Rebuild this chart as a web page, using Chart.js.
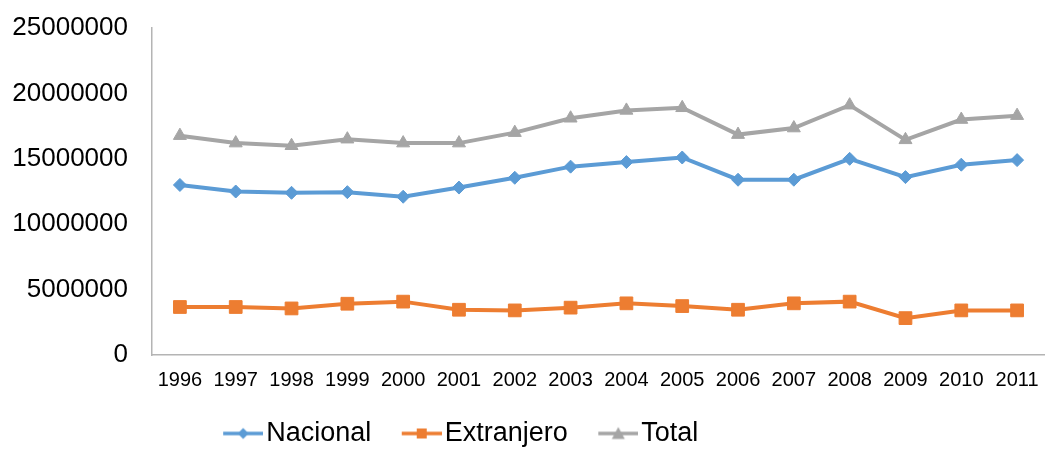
<!DOCTYPE html>
<html>
<head>
<meta charset="utf-8">
<script src="https://cdn.jsdelivr.net/npm/chart.js@4.4.0/dist/chart.umd.min.js"></script>
<style>
  html, body { margin: 0; padding: 0; background: #fff; }
  #wrap { width: 1045px; height: 450px; }
</style>
</head>
<body>
<div id="wrap"><canvas id="chart" width="1045" height="450"></canvas></div>
<script>
const years = ["1996", "1997", "1998", "1999", "2000", "2001", "2002", "2003",
  "2004", "2005", "2006", "2007", "2008", "2009", "2010", "2011"];

const nacional = [13000000, 12500000, 12400000, 12450000, 12100000, 12800000, 13550000, 14400000,
  14750000, 15100000, 13400000, 13400000, 15000000, 13600000, 14550000, 14900000];
const extranjero = [3670000, 3670000, 3560000, 3920000, 4080000, 3460000, 3410000, 3620000,
  3950000, 3740000, 3460000, 3950000, 4080000, 2820000, 3410000, 3410000];
const total = [16770000, 16200000, 16000000, 16500000, 16200000, 16200000, 17000000, 18100000,
  18700000, 18900000, 16850000, 17350000, 19100000, 16450000, 18000000, 18300000];

const yTicks = [0, 5000000, 10000000, 15000000, 20000000, 25000000];

const BLUE = "#5B9BD5";
const ORANGE = "#ED7D31";
const GRAY = "#A5A5A5";
const AXIS = "#B4B4B4";

// legend icon: short line with the marker in the middle (like Excel).
// the canvas is wider than the line so the line sits close to the text
function legendIcon(color, shape) {
  const c = document.createElement("canvas");
  c.width = 71;
  c.height = 16;
  const g = c.getContext("2d");
  const x0 = 31, cx = 51;
  g.strokeStyle = color;
  g.fillStyle = color;
  g.lineWidth = 3.5;
  g.beginPath();
  g.moveTo(x0, 8);
  g.lineTo(x0 + 40, 8);
  g.stroke();
  g.beginPath();
  if (shape === "diamond") {
    g.moveTo(cx, 2.5); g.lineTo(cx + 5.5, 8); g.lineTo(cx, 13.5); g.lineTo(cx - 5.5, 8);
  } else if (shape === "square") {
    g.rect(cx - 5, 3, 10, 10);
  } else {
    g.moveTo(cx, 1.5); g.lineTo(cx + 6.5, 13.5); g.lineTo(cx - 6.5, 13.5);
  }
  g.closePath();
  g.fill();
  return c;
}

const icons = [legendIcon(BLUE, "diamond"), legendIcon(ORANGE, "square"), legendIcon(GRAY, "triangle")];

const legendShift = { dx: -72, dy: 7 };

const shiftLegend = {
  id: "shiftLegend",
  afterLayout(chart) {
    const lg = chart.legend;
    if (!lg) return;
    lg.left += legendShift.dx;
    lg.right += legendShift.dx;
    lg.top += legendShift.dy;
    lg.bottom += legendShift.dy;
  }
};

const ds = (label, data, color, style, radius) => ({
  label,
  data,
  borderColor: color,
  backgroundColor: color,
  borderWidth: 4,
  pointStyle: style,
  pointRadius: radius,
  pointHoverRadius: radius,
  pointBackgroundColor: color,
  pointBorderColor: color,
  pointBorderWidth: 1,
  tension: 0,
  clip: false
});

new Chart(document.getElementById("chart"), {
  type: "line",
  data: {
    labels: years,
    datasets: [
      ds("Nacional", nacional, BLUE, "rectRot", 6.5),
      ds("Extranjero", extranjero, ORANGE, "rect", 9),
      ds("Total", total, GRAY, "triangle", 7.5)
    ]
  },
  options: {
    responsive: false,
    animation: false,
    devicePixelRatio: 1,
    layout: { autoPadding: false, padding: { top: 28, left: 0, right: 0, bottom: 0 } },
    scales: {
      x: {
        offset: true,
        grid: { drawOnChartArea: false, drawTicks: false },
        border: { display: true, color: AXIS, width: 1.5 },
        ticks: {
          color: "#000",
          padding: 13,
          maxRotation: 0,
          autoSkip: false,
          font: { family: "'Liberation Sans', Arial, sans-serif", size: 20 }
        },
        afterFit: (s) => { s.height = 48; s.paddingLeft = 0; s.paddingRight = 0; }
      },
      y: {
        min: 0,
        max: 25000000,
        afterBuildTicks: (s) => { s.ticks = yTicks.map(v => ({ value: v })); },
        grid: { drawOnChartArea: false, drawTicks: false },
        border: { display: true, color: AXIS, width: 1.5 },
        ticks: {
          color: "#000",
          padding: 24,
          callback: (v) => String(v),
          font: { family: "'Liberation Sans', Arial, sans-serif", size: 26 }
        },
        afterFit: (s) => { s.width = 152; s.paddingTop = 0; s.paddingBottom = 0; }
      }
    },
    plugins: {
      tooltip: { enabled: false },
      legend: {
        position: "bottom",
        align: "center",
        labels: {
          color: "#000",
          padding: 10,
          usePointStyle: true,
          pointStyleWidth: 50,
          font: { family: "'Liberation Sans', Arial, sans-serif", size: 27 },
          generateLabels: (chart) => chart.data.datasets.map((d, i) => ({
            text: d.label,
            pointStyle: icons[i],
            fillStyle: d.borderColor,
            strokeStyle: d.borderColor,
            lineWidth: 0,
            fontColor: "#000",
            hidden: false,
            datasetIndex: i
          }))
        }
      }
    }
  },
  plugins: [shiftLegend]
});
</script>
</body>
</html>
